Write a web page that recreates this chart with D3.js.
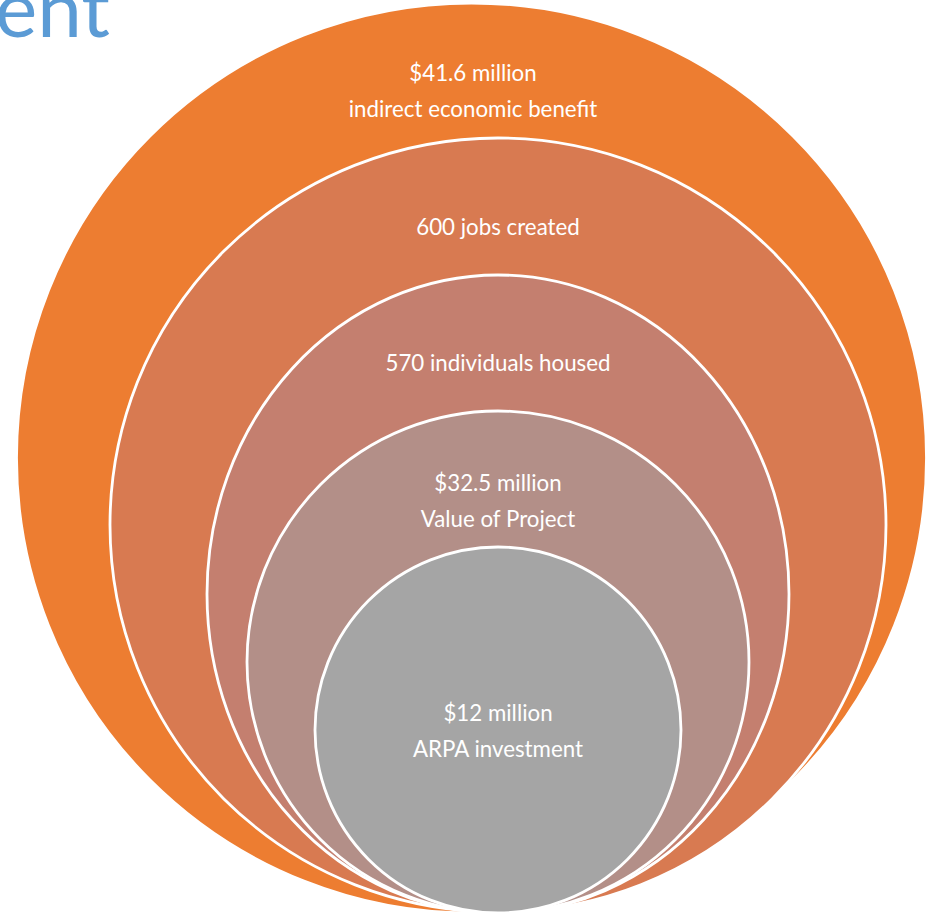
<!DOCTYPE html>
<html>
<head>
<meta charset="utf-8">
<script src="https://cdn.jsdelivr.net/npm/d3@7"></script>
<style>
  body { margin: 0; background: #fff; }
  svg { display: block; }
  .ring-label { fill: #fff; font-family: Lato, "Open Sans", sans-serif; font-size: 22.3px; }
</style>
</head>
<body>
<div id="chart"></div>
<script>
const width = 932;
const height = 913;

// stacked venn: outermost first
const headlines = ["$41.6 million", "600 jobs created", "570 individuals housed", "$32.5 million", "$12 million"];
const sublines = ["indirect economic benefit", "", "", "Value of Project", "ARPA investment"];
const ringColors = ["#ED7D31", "#D87A51", "#C47F6F", "#B38F88", "#A5A5A5"];
const titleTail = "ent";

// layout of each shape (not data)
const shapes = [
  { cx: 471.5, cy: 458, rx: 455, ry: 455, labelY: 81 },
  { cx: 498, cy: 525, rx: 388, ry: 387, labelY: 235 },
  { cx: 498, cy: 594, rx: 291, ry: 319, labelY: 371 },
  { cx: 498, cy: 662, rx: 251, ry: 251, labelY: 491 },
  { cx: 498, cy: 730, rx: 183, ry: 183, labelY: 721 }
];

const rings = headlines.map((h, i) => ({
  head: h,
  sub: sublines[i],
  color: ringColors[i],
  ...shapes[i]
}));

const svg = d3.select("#chart")
  .append("svg")
  .attr("width", width)
  .attr("height", height);

svg.selectAll(".ring")
  .data(rings)
  .join("ellipse")
  .attr("class", "ring")
  .attr("cx", d => d.cx)
  .attr("cy", d => d.cy)
  .attr("rx", d => d.rx)
  .attr("ry", d => d.ry)
  .attr("fill", d => d.color)
  .attr("stroke", "#fff")
  .attr("stroke-width", 2.8);

const labels = svg.selectAll(".ring-label")
  .data(rings)
  .join("text")
  .attr("class", "ring-label")
  .attr("text-anchor", "middle")
  .attr("x", (d, i) => i === 0 ? 473 : d.cx)
  .attr("y", d => d.labelY);

labels.append("tspan")
  .text(d => d.head);

labels.filter(d => d.sub !== "")
  .append("tspan")
  .attr("x", (d, i, n) => d3.select(n[i].parentNode).attr("x"))
  .attr("dy", 36)
  .text(d => d.sub);

// cropped title fragment
svg.append("text")
  .attr("x", 110)
  .attr("y", 37)
  .attr("text-anchor", "end")
  .attr("fill", "#5B9BD5")
  .style("font-family", "Lato, 'Open Sans', sans-serif")
  .style("font-size", "80px")
  .text(titleTail);
</script>
</body>
</html>
